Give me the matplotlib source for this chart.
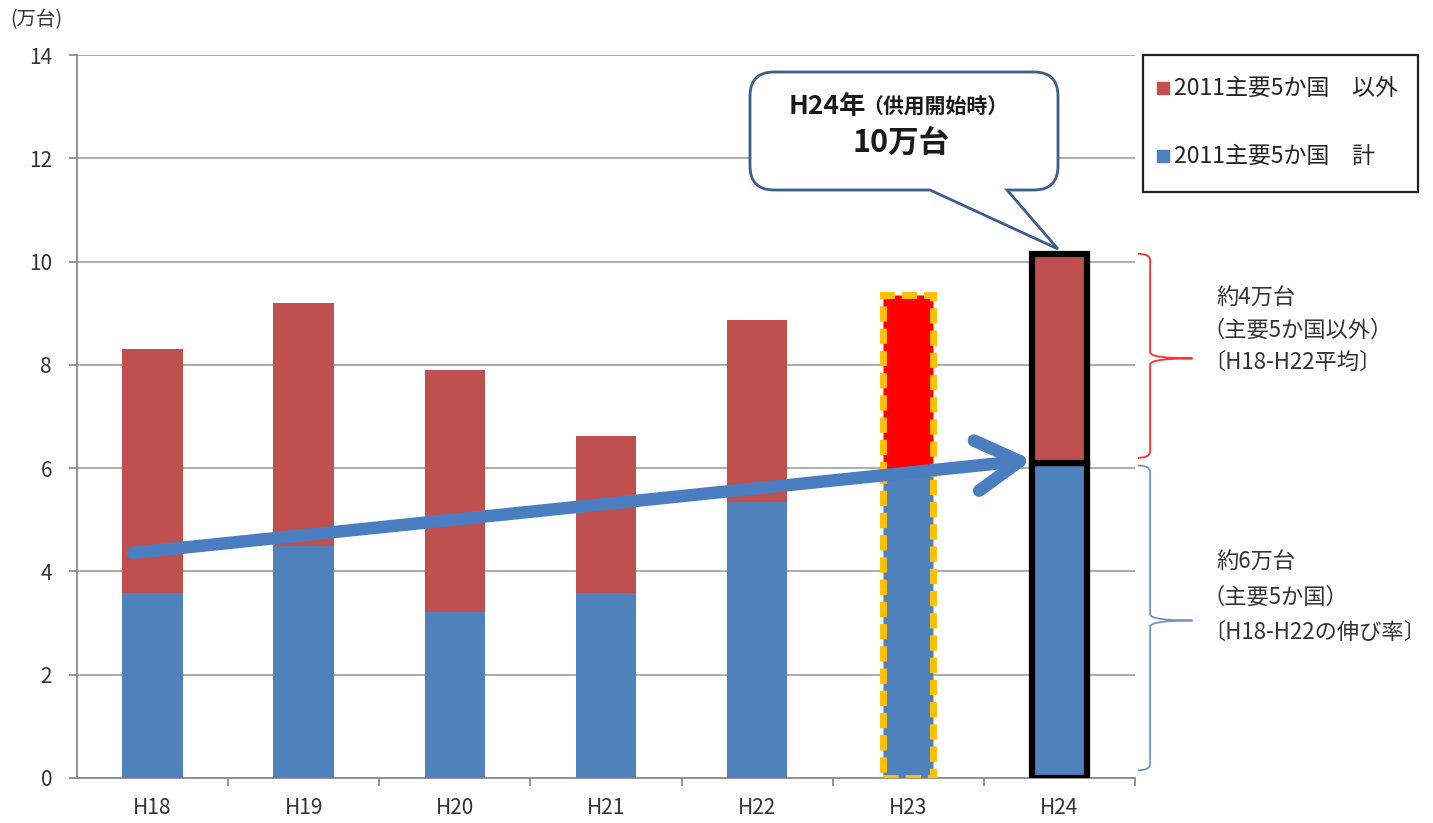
import matplotlib
matplotlib.use('Agg')
import matplotlib.pyplot as plt
from matplotlib.patches import FancyArrowPatch, PathPatch, Rectangle
from matplotlib.path import Path
from matplotlib.transforms import Affine2D

plt.rcParams['font.family'] = ['Noto Sans CJK JP', 'DejaVu Sans']

# 年度別（万台）
years = ['H18', 'H19', 'H20', 'H21', 'H22', 'H23', 'H24']
major5 = [3.58, 4.50, 3.22, 3.58, 5.35, 5.90, 6.10]   # 2011主要5か国 計
others = [4.73, 4.70, 4.68, 3.05, 3.52, 3.45, 4.05]   # 2011主要5か国 以外
trend_start = (-0.13, 4.36)                            # H18-H22 伸び率
trend_end = (5.82, 6.16)
yticks = [0, 2, 4, 6, 8, 10, 12, 14]

BLUE = '#4F81BD'
RED = '#C0504D'
GRID = '#A6A6A6'
TXT = '#333333'
W, H = 1433, 823

fig = plt.figure(figsize=(W / 100, H / 100), dpi=100)
ax = fig.add_axes([77 / W, 1 - 778 / H, (1135 - 77) / W, (778 - 55) / H])

x = list(range(len(years)))
face_top = [RED] * 5 + ['#FF0000', RED]
edge = [None] * 5 + ['#FFC000', 'black']
ls = ['-'] * 5 + [(0, (2.2, 1.0)), '-']
lw = [0] * 5 + [5, 4.5]
width = [0.4] * 5 + [0.33, 0.36]

for i in x:
    kw = dict(width=width[i], linewidth=lw[i], linestyle=ls[i], zorder=3)
    if edge[i]:
        kw['edgecolor'] = edge[i]
    ax.bar(i, major5[i], color=BLUE, **kw)
    ax.bar(i, others[i], bottom=major5[i], color=face_top[i], **kw)

# growth arrow over the bars
ax.add_patch(FancyArrowPatch(trend_start, trend_end,
                             arrowstyle='->,head_length=0.95,head_width=0.55',
                             mutation_scale=33, lw=9, color='#4A7EC0',
                             shrinkA=0, shrinkB=0,
                             capstyle='round', joinstyle='round', zorder=5))

ax.set_xlim(-0.5, 6.5)
ax.set_ylim(0, 14)
ax.set_yticks(yticks)
ax.set_xticks(x)
ax.set_xticklabels(years)
ax.set_xticks([k + 0.5 for k in x], minor=True)
ax.yaxis.grid(True, color=GRID, lw=1.3)
ax.set_axisbelow(True)
for s in ['top', 'right']:
    ax.spines[s].set_visible(False)
for s in ['left', 'bottom']:
    ax.spines[s].set_color('#8C8C8C')
    ax.spines[s].set_linewidth(1.3)
ax.tick_params(axis='y', length=6, width=1.3, color='#8C8C8C', labelsize=15,
               labelcolor=TXT, pad=12)
ax.tick_params(axis='x', which='major', length=0, labelsize=15,
               labelcolor=TXT, pad=14)
ax.tick_params(axis='x', which='minor', length=6, width=1.3, color='#8C8C8C')

fig.text(10 / W, 1 - 20 / H, '(万台)', fontsize=14, color=TXT,
         va='center', ha='left')


def brace(y_top, y_bot, y_tip, color):
    x0, x1, xt = 6.52, 6.6, 6.88
    r = 0.12
    verts = [(x0, y_top), (x1, y_top), (x1, y_top - r),
             (x1, y_tip + r), (x1, y_tip), (xt, y_tip),
             (x1, y_tip), (x1, y_tip - r),
             (x1, y_bot + r), (x1, y_bot), (x0, y_bot)]
    codes = [Path.MOVETO, Path.CURVE3, Path.CURVE3,
             Path.LINETO, Path.CURVE3, Path.CURVE3,
             Path.CURVE3, Path.CURVE3,
             Path.LINETO, Path.CURVE3, Path.CURVE3]
    ax.add_patch(PathPatch(Path(verts, codes), fill=False, edgecolor=color,
                           lw=1.3, clip_on=False, zorder=4))


total24 = major5[6] + others[6]
brace(total24, major5[6] + 0.1, (total24 + major5[6]) / 2, '#FF3030')
brace(major5[6] - 0.05, 0.15, major5[6] / 2, '#6F95C8')

# notes beside the braces
px = lambda u, v: (u / W, 1 - v / H)
for (u, v), s in [((1216, 298), '約4万台'),
                  ((1203, 330), '（主要5か国以外）'),
                  ((1203, 362), '〔H18-H22平均〕'),
                  ((1216, 562), '約6万台'),
                  ((1203, 597), '（主要5か国）'),
                  ((1203, 632), '〔H18-H22の伸び率〕')]:
    fig.text(*px(u, v), s, fontsize=16, color=TXT, va='center', ha='left')

# legend box
fig.patches.append(Rectangle(px(1143, 192), 275 / W, 137 / H, transform=fig.transFigure,
                             fill=False, edgecolor='#222222', lw=1.6))
for v, c, s in [(88, RED, '2011主要5か国　以外'), (156, BLUE, '2011主要5か国　計')]:
    fig.patches.append(Rectangle(px(1157, v + 6), 12 / W, 12 / H,
                                 transform=fig.transFigure, color=c))
    fig.text(*px(1174, v), s, fontsize=16.5, color='#222222', va='center', ha='left')

# callout bubble pointing at the H24 bar
L, R, T, B, r = 750, 1058, 72, 190, 24
bx = [(L + r, T), (R - r, T), (R, T), (R, T + r), (R, B - r), (R, B), (R - r, B),
      (1007, B), (1058, 249), (930, B), (L + r, B), (L, B), (L, B - r),
      (L, T + r), (L, T), (L + r, T), (L + r, T)]
bc = [Path.MOVETO, Path.LINETO, Path.CURVE3, Path.CURVE3, Path.LINETO, Path.CURVE3,
      Path.CURVE3, Path.LINETO, Path.LINETO, Path.LINETO, Path.LINETO, Path.CURVE3,
      Path.CURVE3, Path.LINETO, Path.CURVE3, Path.CURVE3, Path.CLOSEPOLY]
pix = Affine2D().scale(1 / W, -1 / H).translate(0, 1) + fig.transFigure
fig.patches.append(PathPatch(Path(bx, bc), transform=pix, facecolor='white',
                             edgecolor='#3B5E8C', lw=2, zorder=10))
fig.text(*px(866, 106), 'H24年', fontsize=19, fontweight='bold', color='#1A1A1A',
         ha='right', va='center', zorder=11)
fig.text(*px(862, 107), '（供用開始時）', fontsize=15, fontweight='bold',
         color='#1A1A1A', ha='left', va='center', zorder=11)
fig.text(*px(901, 143), '10万台', fontsize=22, fontweight='bold', color='#1A1A1A',
         ha='center', va='center', zorder=11)

fig.savefig('out.png', dpi=100)
